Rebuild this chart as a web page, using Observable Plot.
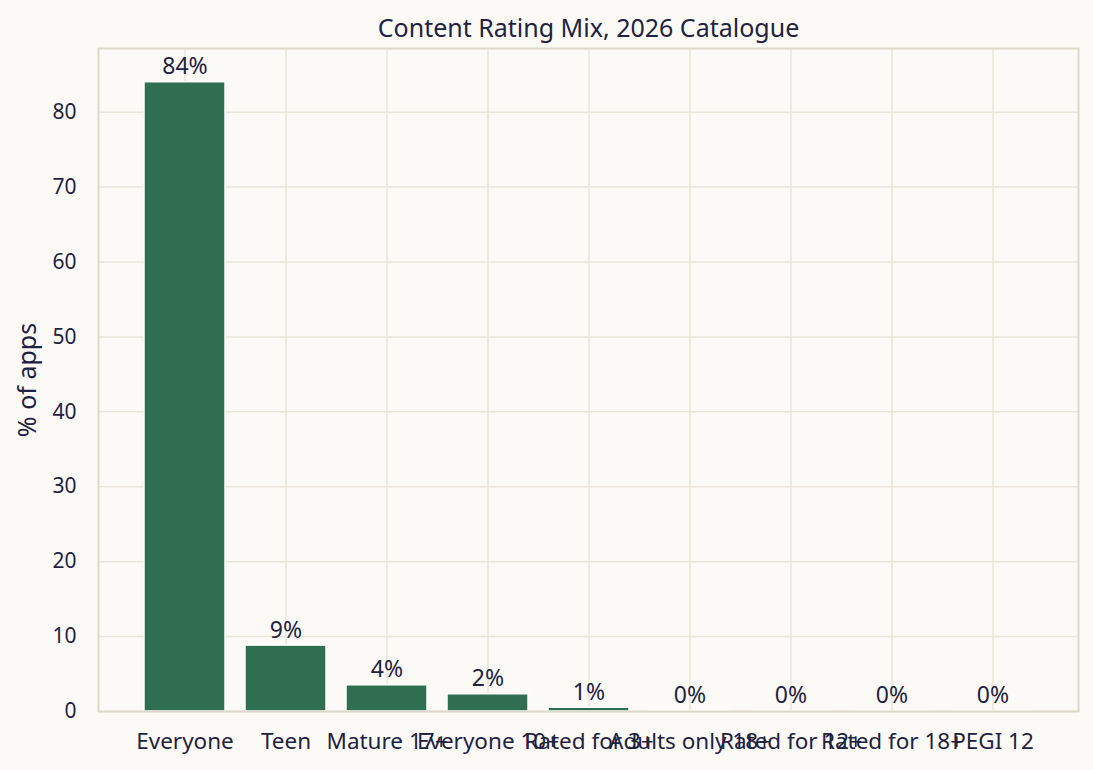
<!DOCTYPE html>
<html>
<head>
<meta charset="utf-8">
<script src="https://cdn.jsdelivr.net/npm/d3@7"></script>
<script src="https://cdn.jsdelivr.net/npm/@observablehq/plot@0.6"></script>
<style>
  html, body { margin: 0; padding: 0; background: #fbfaf6; }
  #chart svg { display: block; }
</style>
</head>
<body>
<div id="chart"></div>
<script>
const title = "Content Rating Mix, 2026 Catalogue";
const yLabel = "% of apps";
const categories = ["Everyone", "Teen", "Mature 17+", "Everyone 10+", "Rated for 3+", "Adults only 18+", "Rated for 12+", "Rated for 18+", "PEGI 12"];
const pct = [84.0, 8.8, 3.5, 2.3, 0.5, 0.05, 0.02, 0.02, 0.02];
const yTicks = [0, 10, 20, 30, 40, 50, 60, 70, 80];

const data = categories.map((c, i) => ({cat: c, pct: pct[i]}));

const textColor = "#1f2240";
const gridColor = "#e9e5db";
const frameColor = "#ddd8cc";
const barColor = "#2f6e50";
const font = "'Noto Sans', 'Open Sans', sans-serif";

const chart = Plot.plot({
  width: 1093,
  height: 770,
  marginLeft: 98,
  marginRight: 15,
  marginTop: 48,
  marginBottom: 59,
  style: {background: "#fbfaf6", color: textColor, fontFamily: font, fontSize: "20px"},
  x: {type: "band", domain: categories, paddingInner: 0.2, paddingOuter: 0.44},
  y: {domain: [0, 88.5]},
  marks: [
    Plot.ruleY(yTicks, {y: d => d, stroke: gridColor, strokeWidth: 1.5}),
    Plot.ruleX(categories, {x: d => d, stroke: gridColor, strokeWidth: 1.5}),
    Plot.barY(data, {x: "cat", y: "pct", fill: barColor, stroke: "white", strokeWidth: 1.5}),
    Plot.text(data, {x: "cat", y: "pct", text: d => Math.round(d.pct) + "%", lineAnchor: "bottom", dy: -8, fontSize: 23, fill: textColor}),
    Plot.frame({stroke: frameColor, strokeWidth: 2}),
    Plot.axisX({tickSize: 0, tickPadding: 22, fontSize: 22.5, label: null}),
    Plot.axisY(yTicks, {tickSize: 0, tickPadding: 22, fontSize: 21, label: null}),
    Plot.text([yLabel], {frameAnchor: "left", textAnchor: "middle", rotate: -90, dx: -71, fontSize: 25, fill: textColor}),
    Plot.text([title], {frameAnchor: "top", dy: -29, fontSize: 25, fill: textColor})
  ]
});
document.getElementById("chart").append(chart);
</script>
</body>
</html>
